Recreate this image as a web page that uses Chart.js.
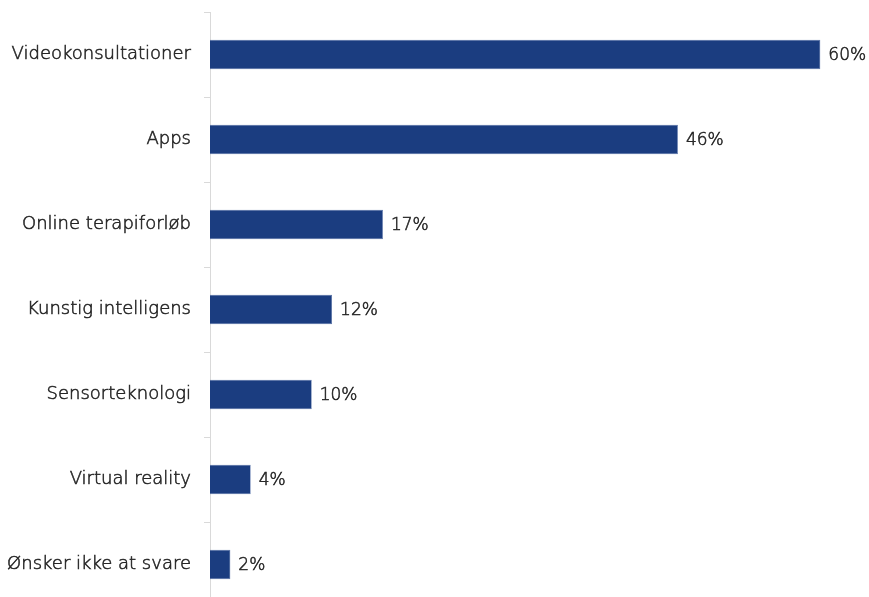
<!DOCTYPE html>
<html>
<head>
<meta charset="utf-8">
<script src="https://cdn.jsdelivr.net/npm/chart.js@4/dist/chart.umd.min.js"></script>
<style>
  html, body { margin: 0; padding: 0; background: #ffffff; overflow: hidden; }
  #wrap { width: 869px; height: 607px; position: relative; }
</style>
</head>
<body>
<div id="wrap"><canvas id="c" width="869" height="607"></canvas></div>
<script>
const categories = [
  'Videokonsultationer',
  'Apps',
  'Online terapiforløb',
  'Kunstig intelligens',
  'Sensorteknologi',
  'Virtual reality',
  'Ønsker ikke at svare'
];
const shares = [60, 46, 17, 12, 10, 4, 2];

const barColor = '#1b3d80';
const textColor = '#262626';
const axisColor = '#d9d9d9';
const fontFamily = '"DejaVu Sans", sans-serif';
const textStroke = 0.55;

// Writes the percentage just past the end of each bar
const valueLabels = {
  id: 'valueLabels',
  afterDatasetsDraw(chart) {
    const ctx = chart.ctx;
    const meta = chart.getDatasetMeta(0);
    ctx.save();
    ctx.font = '200 17px ' + fontFamily;
    ctx.fillStyle = textColor;
    ctx.strokeStyle = textColor;
    ctx.lineWidth = textStroke;
    ctx.textAlign = 'left';
    ctx.textBaseline = 'middle';
    meta.data.forEach((bar, i) => {
      const label = shares[i] + '%';
      ctx.strokeText(label, bar.x + 8, bar.y + 1);
      ctx.fillText(label, bar.x + 8, bar.y + 1);
    });
    ctx.restore();
  }
};

new Chart(document.getElementById('c'), {
  type: 'bar',
  data: {
    labels: categories,
    datasets: [{
      data: shares,
      backgroundColor: barColor,
      borderColor: '#4d6aa3',
      borderWidth: 0.6,
      categoryPercentage: 1,
      barPercentage: 0.345
    }]
  },
  options: {
    indexAxis: 'y',
    responsive: false,
    animation: false,
    layout: { padding: { top: 12, right: 8, bottom: 0, left: 0 } },
    plugins: {
      legend: { display: false },
      tooltip: { enabled: false }
    },
    scales: {
      x: {
        display: false,
        min: 0,
        max: 64
      },
      y: {
        afterFit(scale) {
          scale.width = 210;
          scale.paddingTop = 0;
          scale.paddingBottom = 0;
        },
        border: { display: true, color: axisColor, width: 1 },
        grid: {
          display: true,
          drawOnChartArea: false,
          drawTicks: true,
          tickLength: 6,
          color: axisColor,
          offset: true
        },
        ticks: {
          color: textColor,
          textStrokeColor: textColor,
          textStrokeWidth: textStroke,
          padding: 13,
          font: { family: fontFamily, size: 18, weight: 200 }
        }
      }
    }
  },
  plugins: [valueLabels]
});
</script>
</body>
</html>
